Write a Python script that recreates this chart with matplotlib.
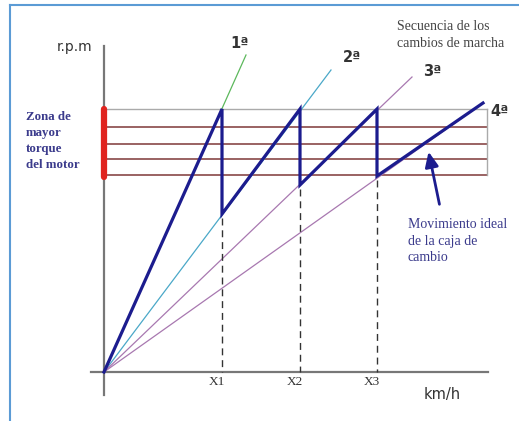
import matplotlib
matplotlib.use("Agg")
import matplotlib.pyplot as plt
from matplotlib.lines import Line2D

# data (speed / rpm in arbitrary units)
gears = ["1ª", "2ª", "3ª", "4ª"]
gear_end_speed = [142, 227, 308, 379]
gear_end_rpm = [317, 302, 295, 269]
gear_colors = ["#5cb85c", "#4aa8c8", "#a878b0", "#a878b0"]
gear_label_pos = [(136, 328), (248, 315), (328, 300), (396, 260)]

shift_labels = ["X1", "X2", "X3"]
shift_speed = [118, 196, 273]
rpm_max = 263
rpm_drop = [158, 187, 196]

zone_rpm = [263, 245, 228, 213, 197]
zone_speed_end = 383

# ideal path of the gearbox: up to max rpm, drop, repeat
path_x = [0]
path_y = [0]
for s, d in zip(shift_speed, rpm_drop):
    path_x += [s, s]
    path_y += [rpm_max, d]
path_x.append(gear_end_speed[3])
path_y.append(gear_end_rpm[3])

fig = plt.figure(figsize=(5.19, 4.21), dpi=100)
ax = fig.add_axes([0, 0, 1, 1])
ax.set_xlim(-104, 415)
ax.set_ylim(-49, 372)
ax.axis("off")

# frame of the original picture
fig.add_artist(Line2D([10 / 519, 10 / 519], [0, 1 - 5 / 421], color="#5b9bd5", lw=1.5))
fig.add_artist(Line2D([10 / 519, 1], [1 - 5 / 421, 1 - 5 / 421], color="#5b9bd5", lw=1.5))

# axes lines
ax.plot([0, 0], [-23, 326], color="#777777", lw=1.6, zorder=2)
ax.plot([-13, 384], [0, 0], color="#777777", lw=1.6, zorder=2)

# torque zone
for i, r in enumerate(zone_rpm):
    ax.plot([0, zone_speed_end], [r, r], color="#aaaaaa" if i == 0 else "#9a6262",
            lw=1.0 if i == 0 else 1.4, zorder=1)
ax.plot([zone_speed_end, zone_speed_end], [zone_rpm[-1], zone_rpm[0]], color="#aaaaaa", lw=1.0, zorder=1)
ax.plot([0, 0], [zone_rpm[-1] - 2, zone_rpm[0]], color="#e0241f", lw=4.5,
        solid_capstyle="round", zorder=4)

# gear lines
for g, xe, ye, c, (lx, ly) in zip(gears, gear_end_speed, gear_end_rpm, gear_colors, gear_label_pos):
    ax.plot([0, xe], [0, ye], color=c, lw=0.9, zorder=2)
    ax.text(lx, ly, g, fontsize=10.5, fontweight="bold", color="#333333", ha="center", va="center")

# dashed shift lines
for s, d, lab in zip(shift_speed, rpm_drop, shift_labels):
    ax.plot([s, s], [d - 4, 0], color="#333333", lw=1.0, ls=(0, (5, 3.5)), zorder=2)
    ax.text(s - 5, -10, lab, ha="center", va="center", fontsize=9.5,
            family="Liberation Serif", color="#333333")

ax.plot(path_x, path_y, color="#1c1c8e", lw=2.3, zorder=5, solid_joinstyle="miter")

# labels
ax.text(-12, 325, "r.p.m", fontsize=10, color="#333333", ha="right", va="center")
ax.text(320, -22, "km/h", fontsize=10.5, color="#333333", ha="left", va="center")

ax.text(-78, 231, "Zona de\nmayor\ntorque\ndel motor", fontsize=9.3, fontweight="bold",
        family="Liberation Serif", color="#3b3b8c", ha="left", va="center", linespacing=1.45)
ax.text(293, 337, "Secuencia de los\ncambios de marcha", fontsize=10,
        family="Liberation Serif", color="#444444", ha="left", va="center", linespacing=1.4)
ax.text(304, 131, "Movimiento ideal\nde la caja de\ncambio", fontsize=10,
        family="Liberation Serif", color="#3b3b8c", ha="left", va="center", linespacing=1.35)

ax.annotate("", xy=(324, 223), xytext=(336, 165),
            arrowprops=dict(arrowstyle="-|>,head_length=0.9,head_width=0.4",
                            color="#1c1c8e", lw=2), zorder=6)

fig.savefig("out.png", dpi=100)
